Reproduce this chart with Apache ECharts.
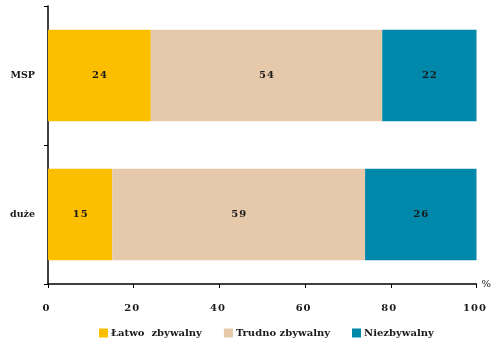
<!DOCTYPE html>
<html>
<head>
<meta charset="utf-8">
<script src="https://cdn.jsdelivr.net/npm/echarts@6/dist/echarts.min.js"></script>
<style>
	html, body {margin:0; padding:0; background:#fff;}
	#chart {width:494px; height:342px;}
</style>
</head>
<body>
<div id="chart"></div>
<script>
// dane wykresu
var categories = ['MSP', 'duże'];
var seriesNames = ['Łatwo  zbywalny', 'Trudno zbywalny', 'Niezbywalny'];
var latwo = [24, 15];
var trudno = [54, 59];
var niezbywalny = [22, 26];
var colors = ['#FBBF00', '#E6C8AA', '#0088AB'];

var font = '"DejaVu Serif", "Liberation Serif", serif';

// lekkie rozstrzelenie cyfr jak w oryginale
function spaced(v){
	return String(v).split('').join('\u200A');
}

function makeSeries(name, data, color){
	return {
		name: name,
		type: 'bar',
		stack: 'total',
		barWidth: '66%',
		data: data,
		itemStyle: {color: color},
		label: {
			show: true,
			position: 'inside',
			color: '#1a1a1a',
			fontFamily: font,
			fontWeight: 'bold',
			fontSize: 10,
			formatter: function(p){ return spaced(p.value); }
		}
	};
}

var myChart = echarts.init(document.getElementById('chart'));
var option = {
	animation: false,
	grid: {
		left: 48,
		right: 13,
		top: 6,
		bottom: 58
	},
	legend: {
		bottom: 0,
		left: 94,
		padding: [5, 5, 4, 5],
		itemWidth: 9,
		itemHeight: 9,
		itemGap: 22,
		icon: 'rect',
		textStyle: {
			fontFamily: font,
			fontWeight: 'bold',
			fontSize: 10,
			color: '#1a1a1a',
			padding: [0, 0, 0, -2]
		},
		data: seriesNames
	},
	xAxis: {
		type: 'value',
		min: 0,
		max: 100,
		interval: 20,
		name: '%',
		nameLocation: 'end',
		nameGap: 5,
		nameTextStyle: {
			fontFamily: font,
			fontSize: 10,
			color: '#1a1a1a',
			verticalAlign: 'middle'
		},
		axisLine: {show: true, lineStyle: {color: '#000', width: 1.5}},
		axisTick: {show: true, length: 4, lineStyle: {color: '#000'}},
		splitLine: {show: false},
		axisLabel: {
			margin: 19,
			fontFamily: font,
			fontWeight: 'bold',
			fontSize: 10,
			color: '#1a1a1a',
			padding: [0, 4, 0, 0],
			formatter: spaced
		}
	},
	yAxis: {
		type: 'category',
		inverse: true,
		data: categories,
		axisLine: {show: true, lineStyle: {color: '#000', width: 1.5}},
		axisTick: {show: true, length: 4, lineStyle: {color: '#000'}},
		axisLabel: {
			margin: 13,
			fontFamily: font,
			fontWeight: 'bold',
			fontSize: 9.5,
			color: '#1a1a1a'
		}
	},
	series: [
		makeSeries(seriesNames[0], latwo, colors[0]),
		makeSeries(seriesNames[1], trudno, colors[1]),
		makeSeries(seriesNames[2], niezbywalny, colors[2])
	]
};
myChart.setOption(option);
</script>
</body>
</html>
